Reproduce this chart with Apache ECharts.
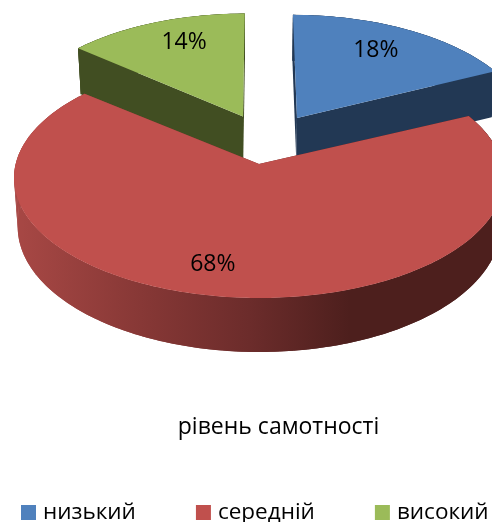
<!DOCTYPE html>
<html>
<head>
<meta charset="utf-8">
<style>html,body{margin:0;padding:0;background:#fff}#c{width:492px;height:522px}</style>
<script src="https://cdn.jsdelivr.net/npm/echarts@6/dist/echarts.min.js"></script>
</head>
<body>
<div id="c"></div>
<script>
var categories = ['низький', 'середній', 'високий'];
var values = [18, 68, 14];
var chartTitle = 'рівень самотності';

var topColors = ['#4F81BD', '#C0504D', '#9BBB59'];
var wallColors = ['#223854', '#4D1F1D', '#414E22'];
var layers = [2, 3, 2];
var explodeOffsets = [[0.1635, -0.407], [0, 0], [-0.0689, -0.422]];
var depthScales = [1.07, 1, 1.07];
var labelAngleShifts = [-2.3, 5.7, 3.6];
var labelRadii = [0.755, 0.775, 0.765];
var FONT = '"Open Sans", "Noto Sans", sans-serif';

var CX = 259, CY = 178, RX = 245, RY = 120, P = -0.1167;
var total = values.reduce(function (a, b) { return a + b; }, 0);

function project(u, v) {
  var w = 1 + P * v;
  return { x: CX + RX * u * Math.sqrt(1 - P * P) / w, s: (v + P) / w };
}
function topPoint(u, v) {
  var p = project(u, v);
  return [p.x, CY + RY * p.s];
}
function bottomPoint(u, v) {
  var p = project(u, v);
  var d = 46 + 8 * Math.max(0, (p.s + 0.5) / 1.5);
  return [CX + (p.x - CX) * 0.985, CY + RY * p.s + d];
}
function rim(i, deg, fn, r) {
  var a = deg * Math.PI / 180, o = explodeOffsets[i], k = r === undefined ? 1 : r;
  return fn(o[0] + k * Math.sin(a), o[1] - k * Math.cos(a) * depthScales[i]);
}
function arc(i, a0, a1, fn) {
  var pts = [], n = Math.max(2, Math.ceil(Math.abs(a1 - a0)));
  for (var j = 0; j <= n; j++) pts.push(rim(i, a0 + (a1 - a0) * j / n, fn));
  return pts;
}
function apex(i, fn) { return fn(explodeOffsets[i][0], explodeOffsets[i][1]); }

function makeRender(i) {
  return function (params, api) {
    var before = 0;
    for (var k = 0; k < i; k++) before += values[k];
    var value = api.value(0);
    var a0 = before / total * 360, a1 = (before + value) / total * 360;
    var wallFill = wallColors[i];
    if (i === 1) {
      wallFill = {
        type: 'linear', global: true, x: 14, y: 0, x2: 350, y2: 0,
        colorStops: [
          { offset: 0, color: '#A84845' },
          { offset: 0.4, color: '#853735' },
          { offset: 0.7, color: '#6C2C2B' },
          { offset: 1, color: '#4D1F1D' }
        ]
      };
    }
    var topArc = arc(i, a0, a1, topPoint), botArc = arc(i, a0, a1, bottomPoint);
    var children = [];
    function poly(points, fill) {
      children.push({ type: 'polygon', shape: { points: points }, style: { fill: fill } });
    }
    var at = apex(i, topPoint), ab = apex(i, bottomPoint);
    poly(topArc.concat(botArc.slice().reverse()), wallFill);
    // swept wall facets so the silhouette stays straight where the rims cross
    for (var q = 0; q + 3 < topArc.length; q += 3) {
      poly([topArc[q], topArc[q + 3], botArc[q + 3], botArc[q]], wallFill);
    }
    poly([at, topArc[0], botArc[0], ab], wallFill);
    poly([at, topArc[topArc.length - 1], botArc[botArc.length - 1], ab], wallFill);
    poly([at].concat(topArc), topColors[i]);
    var lp = rim(i, (a0 + a1) / 2 + labelAngleShifts[i], topPoint, labelRadii[i]);
    children.push({
      type: 'text',
      style: { text: value + '%', x: lp[0], y: lp[1] + 2, align: 'center', verticalAlign: 'middle',
               fill: '#000', font: '23px ' + FONT }
    });
    return { type: 'group', children: children };
  };
}

var chart = echarts.init(document.getElementById('c'), null, { renderer: 'canvas' });
chart.setOption({
  animation: false,
  backgroundColor: '#fff',
  title: {
    text: chartTitle, left: 273.5, top: 411, textAlign: 'center',
    textStyle: { fontFamily: FONT, fontSize: 23, fontWeight: 'normal', color: '#000' }
  },
  legend: {
    data: categories, left: 21, top: 501, itemWidth: 15, itemHeight: 15, itemGap: 60,
    icon: 'rect', padding: 0,
    textStyle: { fontFamily: FONT, fontSize: 22.5, color: '#000', padding: [0, 0, 0, 2] }
  },
  series: categories.map(function (name, i) {
    return {
      type: 'custom', name: name, coordinateSystem: 'none', z: layers[i], silent: true,
      itemStyle: { color: topColors[i] },
      renderItem: makeRender(i),
      data: [[values[i]]]
    };
  })
});
</script>
</body>
</html>
